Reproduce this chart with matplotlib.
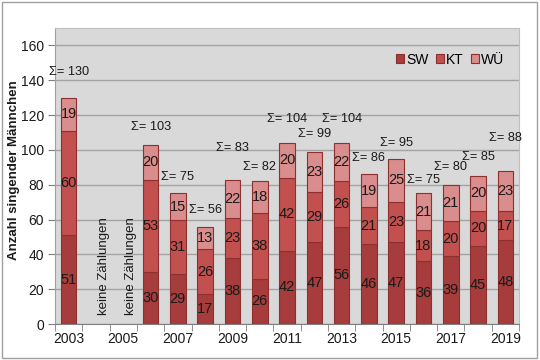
import matplotlib
matplotlib.use("Agg")
import matplotlib.pyplot as plt
from matplotlib.patches import Rectangle
import numpy as np

plt.rcParams['font.family'] = ['Liberation Sans', 'DejaVu Sans']

years = ['2003', '2004', '2005', '2006', '2007', '2008', '2009', '2010', '2011',
         '2012', '2013', '2014', '2015', '2016', '2017', '2018', '2019']
sw = [51, None, None, 30, 29, 17, 38, 26, 42, 47, 56, 46, 47, 36, 39, 45, 48]
kt = [60, None, None, 53, 31, 26, 23, 38, 42, 29, 26, 21, 23, 18, 20, 20, 17]
wu = [19, None, None, 20, 15, 13, 22, 18, 20, 23, 22, 19, 25, 21, 21, 20, 23]
no_count_label = 'keine Zählungen'
series_names = ['SW', 'KT', 'WÜ']
ylabel = 'Anzahl singender Männchen'

# label offsets above bar tops (style)
sum_offsets = [14.5, 0, 0, 10, 9.6, 9.6, 18, 8, 14, 10, 14, 9.5, 9, 8, 10, 11, 19]

colors = ['#a63c3b', '#c1504e', '#d98d8c']
edge = '#8e3030'

fig = plt.figure(figsize=(5.4, 3.6), dpi=100)
fig.patch.set_facecolor('white')
fig.add_artist(Rectangle((0.004, 0.006), 0.991, 0.988, transform=fig.transFigure,
                         fill=False, edgecolor='#a0a0a0', linewidth=1.0))
ax = fig.add_axes([0.102, 0.1, 0.859, 0.822])
ax.set_facecolor('#d9d9d9')

x = np.arange(len(years))
valid = [i for i in range(len(years)) if sw[i] is not None]
xv = np.array(valid)
s = np.array([sw[i] for i in valid], float)
k = np.array([kt[i] for i in valid], float)
w = np.array([wu[i] for i in valid], float)

width = 0.57
ax.bar(xv, s, width, color=colors[0], edgecolor=edge, linewidth=0.8, label=series_names[0], zorder=3)
ax.bar(xv, k, width, bottom=s, color=colors[1], edgecolor=edge, linewidth=0.8, label=series_names[1], zorder=3)
ax.bar(xv, w, width, bottom=s + k, color=colors[2], edgecolor=edge, linewidth=0.8, label=series_names[2], zorder=3)

lab_fs = 10.5
for xi, a, b, c in zip(xv, s, k, w):
    ax.text(xi, a / 2, f'{int(a)}', ha='center', va='center', fontsize=lab_fs, color='#1a1a1a', zorder=4)
    ax.text(xi, a + b / 2, f'{int(b)}', ha='center', va='center', fontsize=lab_fs, color='#1a1a1a', zorder=4)
    ax.text(xi, a + b + c / 2, f'{int(c)}', ha='center', va='center', fontsize=lab_fs, color='#1a1a1a', zorder=4)
    tot = int(a + b + c)
    ax.text(xi, tot + sum_offsets[xi], f'Σ= {tot}', ha='center', va='center', fontsize=9.2, color='#1a1a1a', zorder=4)

for i in range(len(years)):
    if sw[i] is None:
        ax.text(i + 0.28, 33, no_count_label, rotation=90, ha='center', va='center',
                fontsize=9.5, color='#1a1a1a', zorder=4)

ax.set_xlim(-0.5, len(years) - 0.5)
ax.set_ylim(0, 170)
ax.set_yticks(np.arange(0, 161, 20))
ax.yaxis.grid(True, color='#a3a3a3', linewidth=1.0, zorder=0)
ax.set_axisbelow(True)

ax.set_xticks(x[::2])
ax.set_xticklabels(years[::2])
ax.set_xticks(np.arange(-0.5, len(years), 1), minor=True)
ax.tick_params(axis='x', which='major', length=0, pad=6, labelsize=10, colors='#1a1a1a')
ax.tick_params(axis='x', which='minor', length=5, color='#808080')
ax.tick_params(axis='y', length=5, color='#808080', labelsize=10, labelcolor='#1a1a1a', pad=3)

for sp in ['top', 'right']:
    ax.spines[sp].set_color('#bfbfbf')
ax.spines['left'].set_color('#a0a0a0')
ax.spines['bottom'].set_color('#808080')

ax.set_ylabel(ylabel, fontsize=9.5, fontweight='bold', color='#1a1a1a')
ax.yaxis.set_label_coords(-0.076, 0.52)

ax.legend(loc='upper right', bbox_to_anchor=(0.99, 0.95), ncol=3, frameon=False,
          fontsize=10, handlelength=0.6, handleheight=0.6, handletextpad=0.15,
          columnspacing=0.5, borderaxespad=0.3)

fig.savefig('out.png', dpi=100, facecolor='white')
